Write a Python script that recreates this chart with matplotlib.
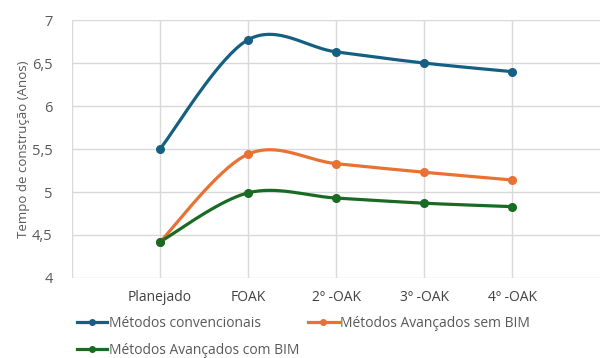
import numpy as np
import matplotlib.pyplot as plt
from matplotlib.lines import Line2D

plt.rcParams['font.family'] = ['Open Sans', 'DejaVu Sans']

categorias = ['Planejado', 'FOAK', '2º -OAK', '3º -OAK', '4º -OAK']
convencionais = [5.50, 6.77, 6.63, 6.50, 6.40]
avancados_sem_bim = [4.42, 5.44, 5.33, 5.23, 5.14]
avancados_com_bim = [4.42, 4.99, 4.93, 4.87, 4.83]
series = [
    ('Métodos convencionais', convencionais, '#156082'),
    ('Métodos Avançados sem BIM', avancados_sem_bim, '#E97132'),
    ('Métodos Avançados com BIM', avancados_com_bim, '#196B24'),
]


def suavizar(x, y, n=40):
    # curva tipo Catmull-Rom (linha suavizada do Excel)
    x = np.asarray(x, float)
    y = np.asarray(y, float)
    px = np.concatenate([[x[0]], x, [x[-1]]])
    py = np.concatenate([[y[0]], y, [y[-1]]])
    xs, ys = [], []
    t = np.linspace(0, 1, n)
    for i in range(1, len(px) - 2):
        p0 = np.array([px[i], py[i]])
        p3 = np.array([px[i + 1], py[i + 1]])
        c1 = p0 + (np.array([px[i + 1], py[i + 1]]) - np.array([px[i - 1], py[i - 1]])) / 6
        c2 = p3 - (np.array([px[i + 2], py[i + 2]]) - p0) / 6
        b = ((1 - t) ** 3)[:, None] * p0 + (3 * (1 - t) ** 2 * t)[:, None] * c1 \
            + (3 * (1 - t) * t ** 2)[:, None] * c2 + (t ** 3)[:, None] * p3
        xs.extend(b[:, 0])
        ys.extend(b[:, 1])
    return xs, ys


fig = plt.figure(figsize=(6, 3.58), dpi=100)
ax = fig.add_axes([0.12, 0.2235, 0.88, 0.7205])

x = np.arange(1, len(categorias) + 1)
handles = []
for nome, valores, cor in series:
    sx, sy = suavizar(x, valores)
    ax.plot(sx, sy, color=cor, lw=2.3, solid_capstyle='round', zorder=3)
    ax.plot(x, valores, 'o', color=cor, ms=5.5, zorder=4)
    handles.append(Line2D([], [], color=cor, lw=2.3, marker='o', ms=4, label=nome))

ax.set_xlim(0, len(categorias) + 1)
ax.set_ylim(4, 7)
ax.set_yticks(np.arange(4, 7.01, 0.5))
ax.set_yticklabels([f'{v:g}'.replace('.', ',') for v in np.arange(4, 7.01, 0.5)])
ax.set_xticks(x)
ax.set_xticklabels(categorias)
ax.set_xticks([0], minor=True)

ax.grid(True, which='major', axis='y', color='#D9D9D9', lw=1)
ax.grid(True, which='both', axis='x', color='#D9D9D9', lw=1)
ax.set_axisbelow(True)
for s in ax.spines.values():
    s.set_visible(False)
ax.tick_params(axis='both', which='both', length=0)
ax.tick_params(axis='y', labelsize=10.5, labelcolor='#595959', pad=14)
ax.tick_params(axis='x', labelsize=10, labelcolor='#404040', pad=9)

ax.set_ylabel('Tempo de construção (Anos)', fontsize=9.5, color='#595959', labelpad=1)

# legenda em duas linhas, como no Excel
estilo = dict(loc='upper left', bbox_transform=fig.transFigure, frameon=False, fontsize=10,
              labelcolor='#595959', handlelength=2.2, handletextpad=0.1,
              borderaxespad=0, borderpad=0)
fig.legend(handles=handles[:2], bbox_to_anchor=(0.128, 0.118), ncol=2,
           columnspacing=3.4, **estilo)
fig.legend(handles=handles[2:], bbox_to_anchor=(0.128, 0.043), **estilo)

fig.savefig('out.png', dpi=100)
